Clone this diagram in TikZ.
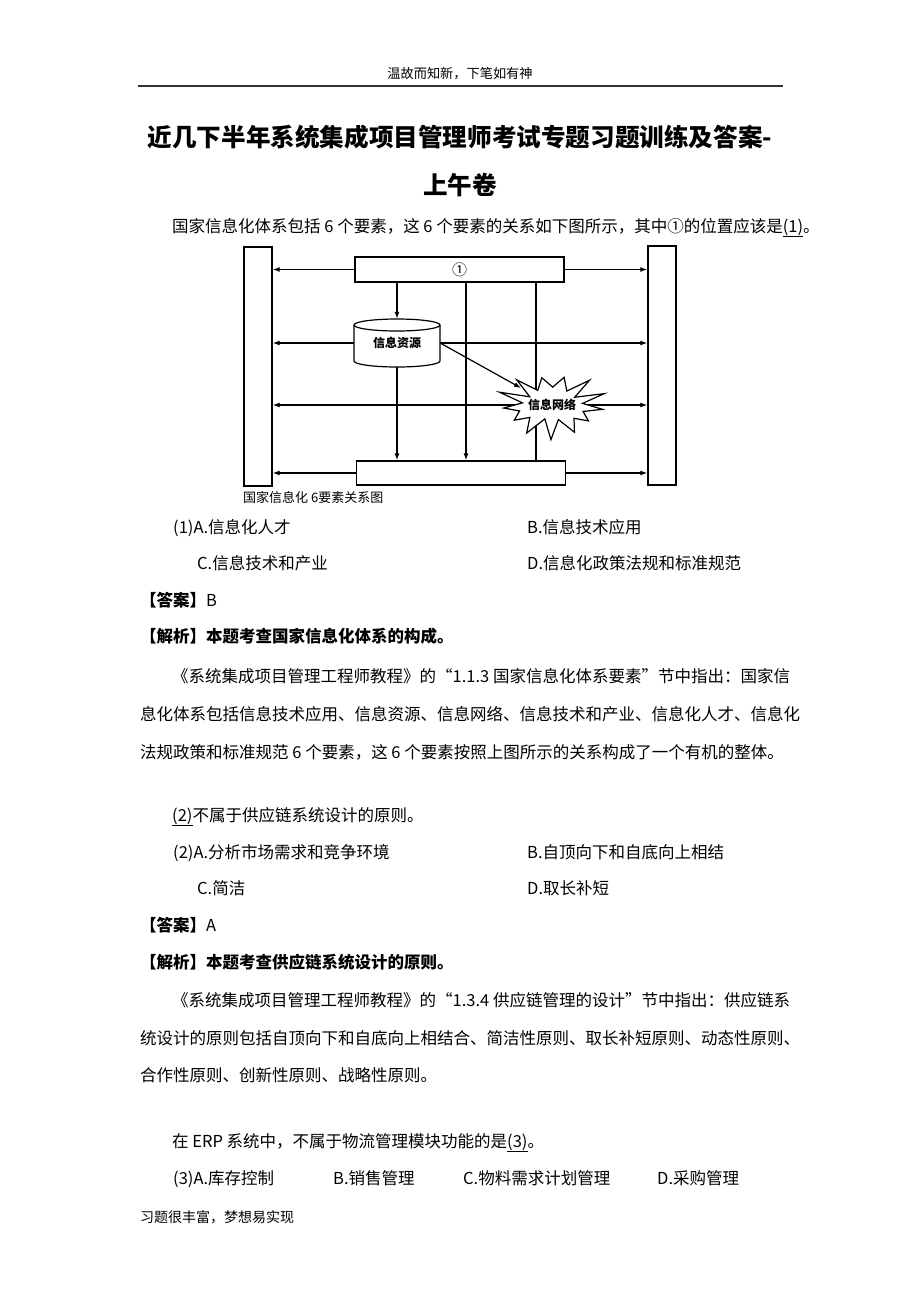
\documentclass[tikz,border=0pt]{standalone}
\usepackage{fontspec}
\setmainfont{Noto Sans CJK SC}
\usetikzlibrary{arrows.meta}
\pgfdeclarelayer{bg}
\pgfdeclarelayer{paper}
\pgfsetlayers{paper,bg,main}
\tikzset{
  txt/.style={anchor=base west, inner sep=0, font=\fontsize{16.5}{19}\selectfont},
  ctxt/.style={anchor=base, inner sep=0},
  box/.style={draw, line width=1.4pt, fill=white, inner sep=0},
  conn/.style={line width=1.2pt},
  arr/.style={conn, -{Latex[length=7pt,width=5pt]}},
  darr/.style={conn, {Latex[length=7pt,width=5pt]}-{Latex[length=7pt,width=5pt]}}
}
\begin{document}
\begin{tikzpicture}[x=1pt,y=-1pt]
\useasboundingbox (0,0) rectangle (920,1302);
\begin{pgfonlayer}{paper}
\fill[white] (0,0) rectangle (920,1302);
\end{pgfonlayer}
% header
\node[ctxt, font=\fontsize{13.2}{15}\selectfont] (hdr) at (460,78) {温故而知新，下笔如有神};
\coordinate (rl) at (138,86);
\coordinate (rr) at (783,86);
\draw[line width=1.5pt, black!80] (rl) -- (rr);
% title
\node[ctxt, font=\bfseries\fontsize{24.6}{28}\selectfont] (t1) at (460,146) {近几下半年系统集成项目管理师考试专题习题训练及答案-};
\node[ctxt, font=\bfseries\fontsize{24.6}{28}\selectfont] (t2) at (460,194) {上午卷};
\node[txt] (p0) at (172,232) {国家信息化体系包括 6 个要素，这 6 个要素的关系如下图所示，其中①的位置应该是\underline{(1)}。};

% diagram
\node[box, minimum width=28pt, minimum height=239pt] (lrect) at (258,366.5) {};
\node[box, minimum width=28pt, minimum height=239pt] (rrect) at (662,365.5) {};
\node[box, minimum width=209pt, minimum height=25pt, font=\fontsize{15}{15}\selectfont] (topbox) at (459.5,269.5) {①};
\node[box, minimum width=209pt, minimum height=24pt] (botbox) at (461,473) {};
\filldraw[fill=white, line width=1.2pt] (354,325) -- (354,361) arc[start angle=180,end angle=360,x radius=43pt,y radius=6pt] -- (440,325) arc[start angle=0,end angle=180,x radius=43pt,y radius=6pt] -- cycle;
\draw[line width=1.2pt] (354,325) arc[start angle=180,end angle=360,x radius=43pt,y radius=6pt];
\node[minimum width=86pt, minimum height=48pt, inner sep=0, font=\bfseries\fontsize{12}{12}\selectfont] (cyl) at (397,343) {\raisebox{-3pt}{信息资源}};
\filldraw[fill=white, line width=1.2pt, line join=miter] plot[variable=\k, samples at={0,...,25}] ({552+ifthenelse(mod(\k,2)==0,51,31)*(1+0.12*sin(\k*137))*cos(\k*13.846+8)}, {405+ifthenelse(mod(\k,2)==0,31,16)*(1+0.12*sin(\k*137))*sin(\k*13.846+8)}) -- cycle;
\node[inner sep=0, font=\bfseries\fontsize{12}{12}\selectfont] (star) at (552,405) {信息网络};
\coordinate (stin) at (521,388);
\coordinate (c466) at (466,282);
\coordinate (c536) at (536,282);
\begin{pgfonlayer}{bg}
\draw[arr] (topbox.west) -- (topbox.west -| lrect.east);
\draw[arr] (topbox.east) -- (topbox.east -| rrect.west);
\draw[darr] (lrect.east |- cyl.center) -- (rrect.west |- cyl.center);
\draw[arr] (star.center) -- (lrect.east |- star.center);
\draw[arr] (star.center) -- (rrect.west |- star.center);
\draw[arr] (botbox.west) -- (botbox.west -| lrect.east);
\draw[arr] (botbox.east) -- (botbox.east -| rrect.west);
\draw[arr] (topbox.south -| cyl.north) -- (cyl.north);
\draw[arr] (cyl.south) -- (botbox.north -| cyl.south);
\draw[arr] (c466) -- (botbox.north -| c466);
\draw[conn] (c536) -- (botbox.north -| c536);
\end{pgfonlayer}
\draw[arr] (cyl.east) -- (stin);
\node[anchor=base west, inner sep=0, font=\fontsize{13}{13}\selectfont] (cap) at (243,502) {国家信息化 6要素关系图};

% question 1 options
\node[txt] (o1a) at (173,533) {(1)A.信息化人才};
\node[txt] (o1b) at (527,533) {B.信息技术应用};
\node[txt] (o1c) at (197,569) {C.信息技术和产业};
\node[txt] (o1d) at (527,569) {D.信息化政策法规和标准规范};
\node[txt] (a1) at (140,606) {\textbf{【答案】}B};
\node[txt] (j1) at (140,642) {\textbf{【解析】本题考查国家信息化体系的构成。}};
\node[txt] (p1a) at (172,682) {《系统集成项目管理工程师教程》的“1.1.3 国家信息化体系要素”节中指出：国家信};
\node[txt] (p1b) at (140,720) {息化体系包括信息技术应用、信息资源、信息网络、信息技术和产业、信息化人才、信息化};
\node[txt] (p1c) at (140,758) {法规政策和标准规范 6 个要素，这 6 个要素按照上图所示的关系构成了一个有机的整体。};

% question 2
\node[txt] (q2) at (172,821) {\underline{(2)}不属于供应链系统设计的原则。};
\node[txt] (o2a) at (173,858) {(2)A.分析市场需求和竞争环境};
\node[txt] (o2b) at (527,858) {B.自顶向下和自底向上相结};
\node[txt] (o2c) at (197,894) {C.简洁};
\node[txt] (o2d) at (527,894) {D.取长补短};
\node[txt] (a2) at (140,931) {\textbf{【答案】}A};
\node[txt] (j2) at (140,968) {\textbf{【解析】本题考查供应链系统设计的原则。}};
\node[txt] (p2a) at (172,1006) {《系统集成项目管理工程师教程》的“1.3.4 供应链管理的设计”节中指出：供应链系};
\node[txt] (p2b) at (140,1044) {统设计的原则包括自顶向下和自底向上相结合、简洁性原则、取长补短原则、动态性原则、};
\node[txt] (p2c) at (140,1081) {合作性原则、创新性原则、战略性原则。};

% question 3
\node[txt] (q3) at (172,1147) {在 ERP 系统中，不属于物流管理模块功能的是\underline{(3)}。};
\node[txt] (o3a) at (173,1184) {(3)A.库存控制};
\node[txt] (o3b) at (333,1184) {B.销售管理};
\node[txt] (o3c) at (463,1184) {C.物料需求计划管理};
\node[txt] (o3d) at (657,1184) {D.采购管理};
\node[anchor=base west, inner sep=0, font=\fontsize{14}{16}\selectfont] (ftr) at (140,1222) {习题很丰富，梦想易实现};
\end{tikzpicture}
\end{document}
